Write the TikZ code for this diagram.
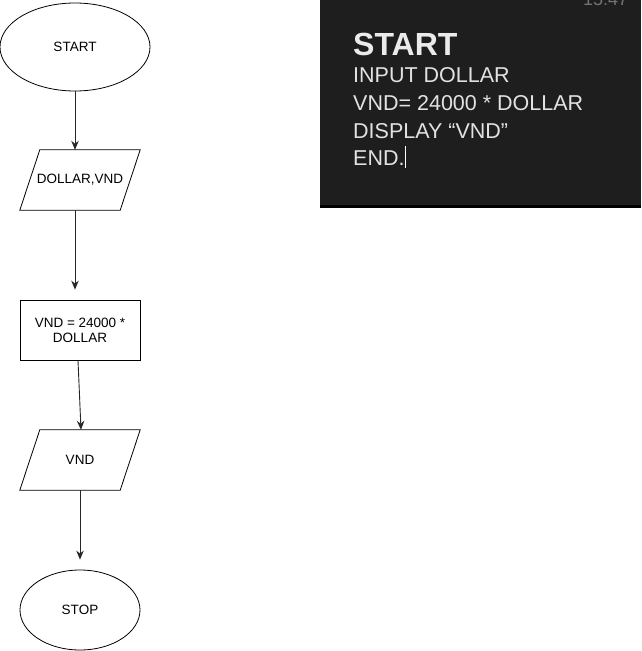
\documentclass[tikz,border=0pt]{standalone}
\usepackage{fontspec}
\setmainfont{Liberation Sans}
\usetikzlibrary{shapes.geometric,arrows.meta}
\definecolor{notebg}{HTML}{1E1E1E}
\definecolor{noteline}{HTML}{474747}
\definecolor{notetext}{HTML}{E2E2E2}
\tikzset{
  flow/.style={draw, line width=0.8pt, font=\fontsize{13.5}{15}\selectfont, align=center, inner sep=0pt},
  terminal/.style={flow, ellipse},
  iobox/.style={font=\fontsize{13.5}{15}\selectfont, rectangle, minimum width=120, minimum height=60, inner sep=0pt},
  slanted/.style={line width=0.8pt},
  procbox/.style={flow, rectangle, minimum width=120, minimum height=60},
  arr/.style={-{Stealth[length=9pt,width=7.5pt]}, line width=0.9pt, black!85},
  noteline/.style={anchor=base west, text=notetext, inner sep=0pt, font=\fontsize{21.5}{24}\selectfont}
}
\begin{document}
\begin{tikzpicture}[x=1pt,y=-1pt]
    \useasboundingbox (0,0) rectangle (641,651);

    % flowchart
    \node[terminal, minimum width=150, minimum height=88] (start) at (75,47) {START};
    \node[iobox] (input) at (80,180) {DOLLAR,VND};
    \node[procbox] (calc) at (80,330) {VND = 24000 *\\DOLLAR};
    \node[iobox] (output) at (80,460) {VND};
    \node[terminal, minimum width=120, minimum height=80] (stop) at (80,610) {STOP};

    % input/output parallelograms
    \draw[slanted] (input.south west) -- ([xshift=20pt]input.north west) -- (input.north east) -- ([xshift=-20pt]input.south east) -- cycle;
    \draw[slanted] (output.south west) -- ([xshift=20pt]output.north west) -- (output.north east) -- ([xshift=-20pt]output.south east) -- cycle;

    \draw[arr] (start) -- (start |- input.north);
    \draw[arr, shorten >=10pt] (input.south -| start) -- (start |- calc.north);
    \draw[arr] ([xshift=-2pt]calc.south) -- ([xshift=1pt]output.north);
    \draw[arr, shorten >=10pt] (output.south) -- (stop);

    % pseudocode screenshot
    \fill[notebg] (320,0) rectangle (641,206);
    \fill[noteline] (320,205) rectangle (641,207.5);
    \begin{scope}
        \clip (560,0) rectangle (641,20);
        \node[anchor=base west, text=black!55, inner sep=0pt, font=\fontsize{18}{20}\selectfont] (clock) at (583,5) {15:47};
    \end{scope}
    \node[noteline, font=\bfseries\fontsize{32}{34}\selectfont, text=white!92!black] (lstart) at (353,55) {START};
    \node[noteline] (linput) at (353,82) {INPUT DOLLAR};
    \node[noteline] (lcalc) at (353,110) {VND= 24000 * DOLLAR};
    \node[noteline] (lshow) at (353,138) {DISPLAY “VND”};
    \node[noteline] (lend) at (353,165) {END.};
    \draw[white, line width=1pt] ([xshift=1pt,yshift=-3pt]lend.south east) -- ([xshift=1pt,yshift=4pt]lend.north east);
\end{tikzpicture}
\end{document}
